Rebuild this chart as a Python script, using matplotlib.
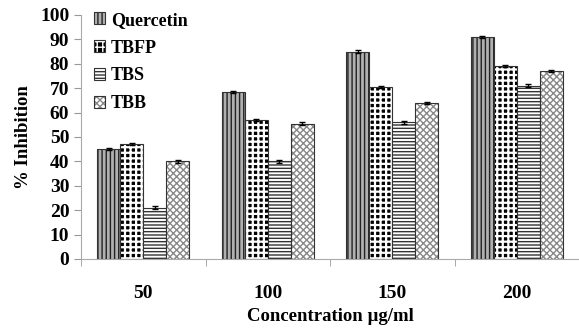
import numpy as np
import matplotlib as mpl
mpl.use("Agg")
import matplotlib.pyplot as plt

mpl.rcParams["font.family"] = "Liberation Serif"
mpl.rcParams["font.weight"] = "bold"
mpl.rcParams["hatch.linewidth"] = 1.0

# data
concentrations = ["50", "100", "150", "200"]
series = ["Quercetin", "TBFP", "TBS", "TBB"]
quercetin = [45, 68.5, 85, 91]
tbfp = [47, 57, 70.5, 79]
tbs = [21, 40, 56, 71]
tbb = [40, 55.5, 64, 77]
errors = [0.5, 0.5, 0.7, 0.5]

values = [quercetin, tbfp, tbs, tbb]
hatches = ["||||", "+++", "-----", "xxxxx"]
faces = ["#b0b0b0", "black", "white", "white"]
hcolors = ["#222222", "white", "#333333", "#888888"]
hlw = [1.0, 1.6, 1.0, 1.0]

fig = plt.figure(figsize=(5.79, 3.32), dpi=100)
ax = fig.add_axes([0.14, 0.22, 0.86, 0.735])

x = np.arange(len(concentrations))
w = 0.185
handles = []
for i, (name, vals) in enumerate(zip(series, values)):
    pos = x + (i - 1.5) * w
    with mpl.rc_context({"hatch.linewidth": hlw[i]}):
        b1 = ax.bar(pos, vals, w, color=faces[i], edgecolor=hcolors[i],
                    hatch=hatches[i], linewidth=0)
    b2 = ax.bar(pos, vals, w, color="none", edgecolor="#333333", linewidth=0.8)
    ax.errorbar(pos, vals, yerr=errors[i], fmt="none", ecolor="black",
                elinewidth=1, capsize=2.5, capthick=1)
    handles.append((b1[0], b2[0]))

ax.set_xlim(-0.5, 3.5)
ax.set_ylim(0, 100)
ax.set_yticks(range(0, 101, 10))
ax.set_xticks(x)
ax.set_xticklabels(concentrations)
ax.set_xticks(np.arange(-0.5, 3.6, 1), minor=True)
ax.tick_params(axis="x", which="major", length=0, pad=19, labelsize=14)
ax.tick_params(axis="x", which="minor", length=5, color="#999999")
ax.tick_params(axis="y", length=5, color="#999999", labelsize=14)

for s in ["top", "right"]:
    ax.spines[s].set_visible(False)
for s in ["left", "bottom"]:
    ax.spines[s].set_color("#aaaaaa")

ax.set_ylabel("% Inhibition", fontsize=13.5, fontweight="bold", labelpad=6)
ax.set_xlabel("Concentration \u00b5g/ml", fontsize=13.5, fontweight="bold", labelpad=4)

ax.legend(handles, series, loc="upper left", bbox_to_anchor=(0.0, 1.065),
          frameon=False, fontsize=13, handlelength=0.65, handleheight=0.65,
          handletextpad=0.3, labelspacing=0.6, borderaxespad=0.3)

fig.savefig("out.png", dpi=100)
